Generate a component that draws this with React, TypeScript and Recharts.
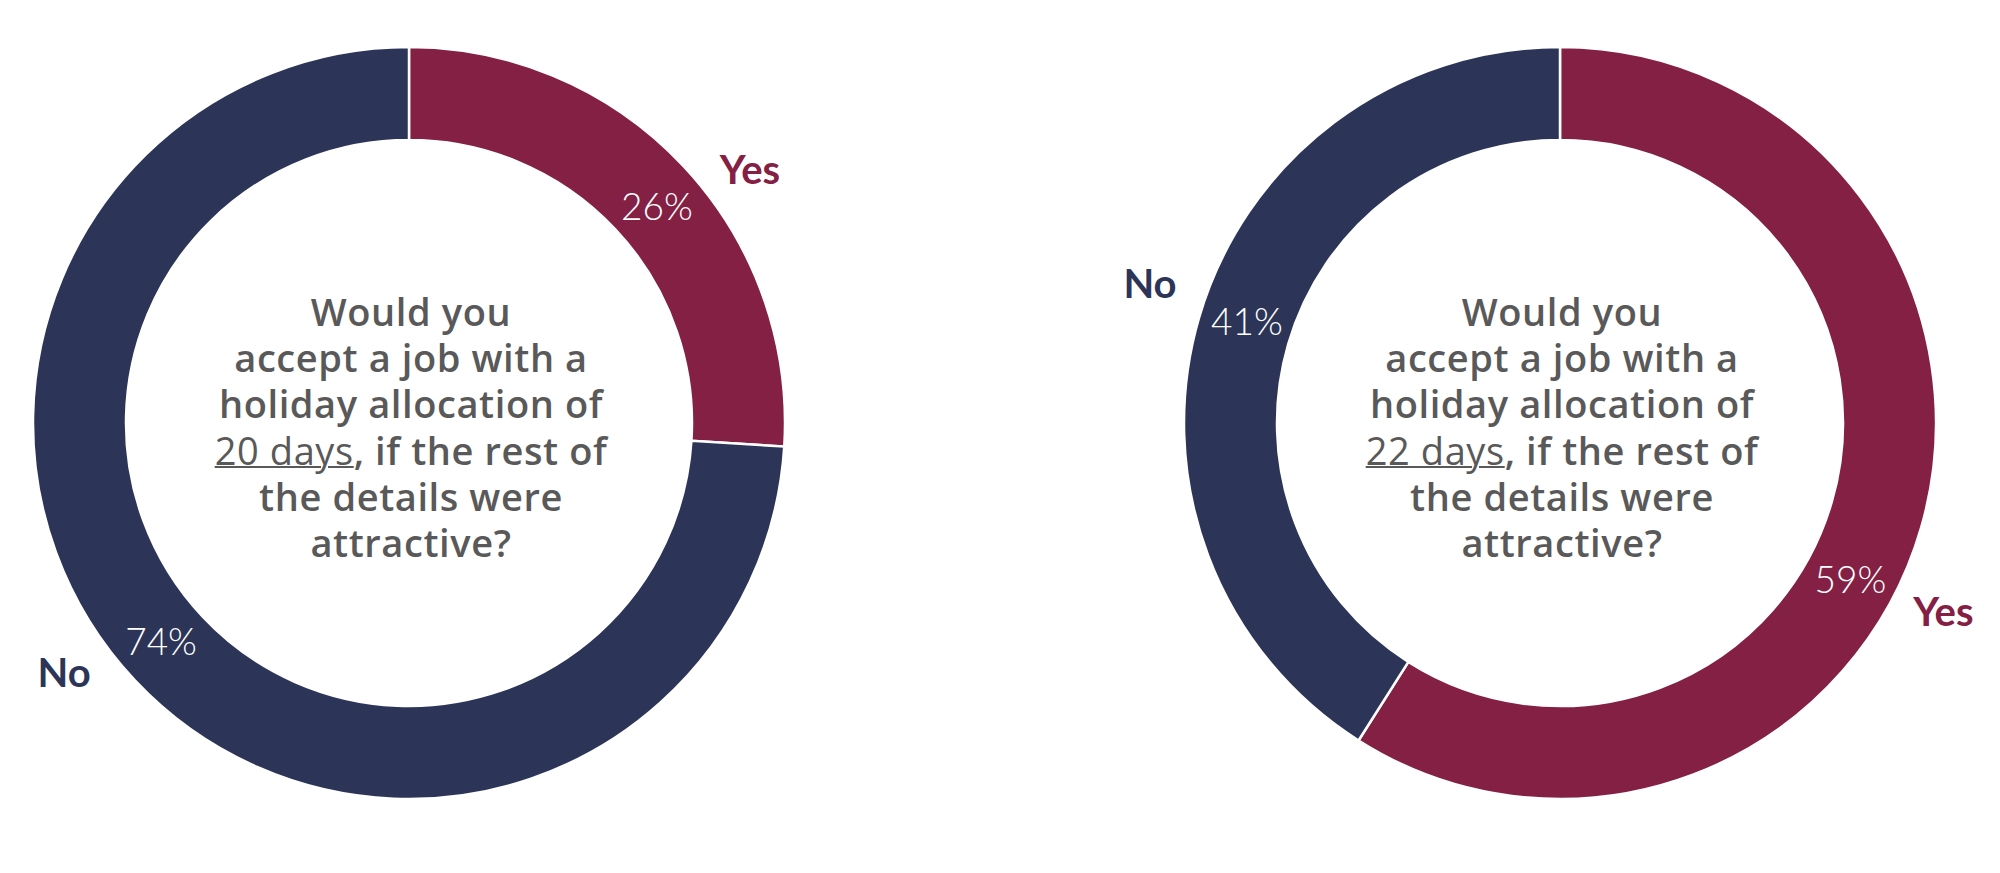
import { PieChart, Pie, Cell } from 'recharts'

// survey answers (percent of respondents)
const answers = ['Yes', 'No']
const share20Days = [26, 74]
const share22Days = [59, 41]
const dayOptions = ['20 days', '22 days']

const YES_COLOR = '#832044'
const NO_COLOR = '#2C3557'
const TEXT_GREY = '#595959'
const FONT = 'Lato, "Open Sans", sans-serif'
const QUESTION_FONT = '"Open Sans", Lato, sans-serif'

const W = 2000
const H = 873
const CY = 423
const LEFT_CX = 409
const RIGHT_CX = 1560
const INNER_R = 283
const OUTER_R = 376
const RAD = Math.PI / 180

const toRows = (values: number[]) =>
  answers.map((name, i) => ({ name, value: values[i] }))

const colorOf = (name: string) => (name === 'Yes' ? YES_COLOR : NO_COLOR)

// label angle tweak (degrees, negative = clockwise) so the labels sit like the original
const makeLabel = (nudge: number[]) => (props: any) => {
  const { cx, cy, midAngle, innerRadius, outerRadius, index, name, value } = props
  const r = (innerRadius + outerRadius) / 2
  const a = (midAngle + nudge[index]) * RAD
  const x = cx + r * Math.cos(-a)
  const y = cy + r * Math.sin(-a)
  const dx = Math.cos(-a) >= 0 ? 93 : -97
  const dy = Math.sin(-a) >= 0 ? 32 : -37
  return (
    <g>
      <text
        x={x}
        y={y}
        fill="#ffffff"
        textAnchor="middle"
        dominantBaseline="central"
        fontFamily={FONT}
        fontWeight={300}
        fontSize={37}
      >
        {value}%
      </text>
      <text
        x={x + dx}
        y={y + dy}
        fill={colorOf(name)}
        textAnchor="middle"
        dominantBaseline="central"
        fontFamily={FONT}
        fontWeight={700}
        fontSize={40}
      >
        {name}
      </text>
    </g>
  )
}

const Question = ({ cx, days }: { cx: number; days: string }) => (
  <div
    style={{
      position: 'absolute',
      left: cx - 260,
      top: 288,
      width: 520,
      textAlign: 'center',
      fontFamily: QUESTION_FONT,
      fontWeight: 600,
      fontSize: 38,
      lineHeight: '46.2px',
      letterSpacing: 0.6,
      color: TEXT_GREY,
    }}
  >
    <div>Would you</div>
    <div>accept a job with a</div>
    <div>holiday allocation of</div>
    <div>
      <span style={{ textDecoration: 'underline', textDecorationThickness: 2, fontWeight: 400 }}>{days}</span>, if the rest of
    </div>
    <div>the details were</div>
    <div>attractive?</div>
  </div>
)

const App = () => {
  return (
    <div style={{ position: 'relative', width: W, height: H, background: '#ffffff' }}>
      <style>{'body{margin:0}'}</style>
      <PieChart width={W} height={H} margin={{ top: 0, right: 0, bottom: 0, left: 0 }}>
        <Pie
          data={toRows(share20Days)}
          dataKey="value"
          nameKey="name"
          cx={LEFT_CX}
          cy={CY}
          innerRadius={INNER_R}
          outerRadius={OUTER_R}
          startAngle={90}
          endAngle={-270}
          stroke="#ffffff"
          strokeWidth={2.5}
          label={makeLabel([-2, -2])}
          labelLine={false}
          isAnimationActive={false}
        >
          {answers.map((name) => (
            <Cell key={name} fill={colorOf(name)} />
          ))}
        </Pie>
        <Pie
          data={toRows(share22Days)}
          dataKey="value"
          nameKey="name"
          cx={RIGHT_CX}
          cy={CY}
          innerRadius={INNER_R}
          outerRadius={OUTER_R}
          startAngle={90}
          endAngle={-270}
          stroke="#ffffff"
          strokeWidth={2.5}
          label={makeLabel([-12, -2])}
          labelLine={false}
          isAnimationActive={false}
        >
          {answers.map((name) => (
            <Cell key={name} fill={colorOf(name)} />
          ))}
        </Pie>
      </PieChart>
      <Question cx={LEFT_CX + 2} days={dayOptions[0]} />
      <Question cx={RIGHT_CX + 2} days={dayOptions[1]} />
    </div>
  )
}

export default App
